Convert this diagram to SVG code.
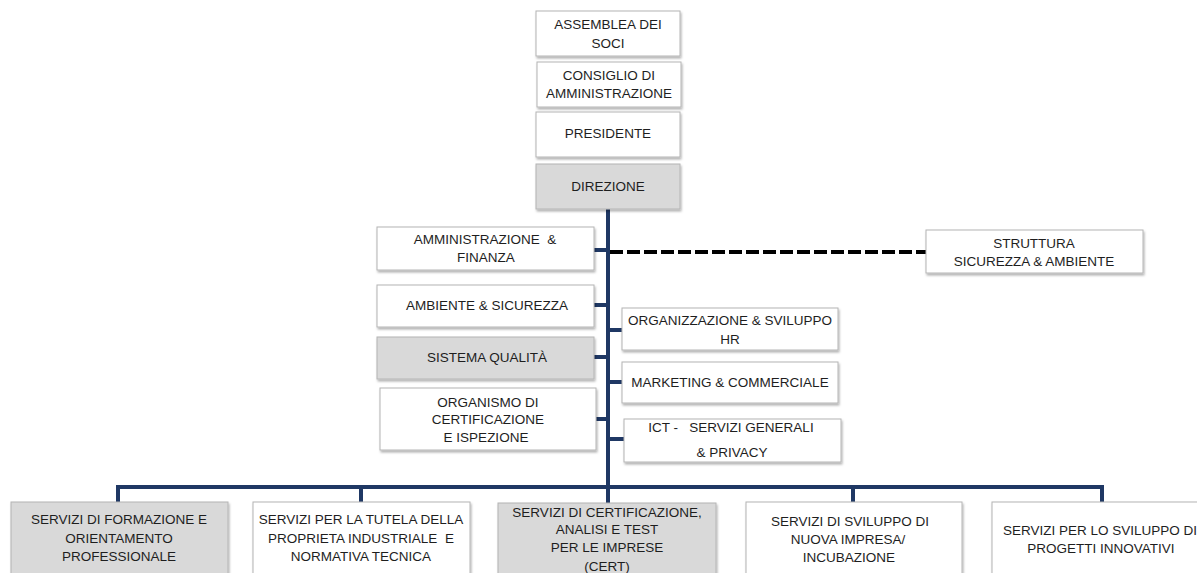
<svg xmlns="http://www.w3.org/2000/svg" width="1197" height="573" viewBox="0 0 1197 573">
<style>
.box{fill:#ffffff;stroke:#b4b4b4;stroke-width:1;filter:url(#sh)}
.gray{fill:#d9d9d9}
.t{font-family:"Liberation Sans",Arial,sans-serif;font-size:13.5px;fill:#1e1e1e;text-anchor:middle}
.ln{stroke:#1f3864;stroke-width:4;fill:none}
.dash{stroke:#000;stroke-width:4;stroke-dasharray:13,4;fill:none}
</style>
<defs>
<filter id="sh" x="-10%" y="-10%" width="130%" height="140%">
<feDropShadow dx="1" dy="2" stdDeviation="1.2" flood-color="#000" flood-opacity="0.3"/>
</filter>
</defs>
<g id="connectors">
<path class="ln" d="M608 209 V487"/>
<path class="ln" d="M594 250 H608 M594 305 H608 M594 357 H608 M596 419 H608"/>
<path class="ln" d="M608 330 H622 M608 382 H622 M608 439 H624"/>
<path class="ln" d="M118 502 V487 H1102 V502 M361 487 V502 M608 487 V503 M853 487 V502"/>
<path class="dash" d="M610 252 H926"/>
</g>
<g id="assemblea"><rect class="box" x="536" y="11" width="144" height="45"/><text class="t" x="608" y="29">ASSEMBLEA DEI</text><text class="t" x="608" y="48">SOCI</text></g>
<g id="consiglio"><rect class="box" x="537" y="62" width="144" height="45"/><text class="t" x="609" y="80">CONSIGLIO DI</text><text class="t" x="609" y="98">AMMINISTRAZIONE</text></g>
<g id="presidente"><rect class="box" x="536" y="112" width="144" height="45"/><text class="t" x="608" y="138">PRESIDENTE</text></g>
<g id="direzione"><rect class="box gray" x="536" y="164" width="144" height="45"/><text class="t" x="608" y="191">DIREZIONE</text></g>
<g id="amministrazione"><rect class="box" x="377" y="227" width="217" height="43"/><text class="t" x="485" y="244" xml:space="preserve">AMMINISTRAZIONE  &amp;</text><text class="t" x="486" y="262">FINANZA</text></g>
<g id="ambiente"><rect class="box" x="377" y="285" width="217" height="42"/><text class="t" x="487" y="310">AMBIENTE &amp; SICUREZZA</text></g>
<g id="qualita"><rect class="box gray" x="377" y="337" width="217" height="42"/><text class="t" x="487" y="362">SISTEMA QUALITÀ</text></g>
<g id="organismo"><rect class="box" x="380" y="388" width="216" height="62"/><text class="t" x="488" y="407">ORGANISMO DI</text><text class="t" x="488" y="424">CERTIFICAZIONE</text><text class="t" x="486" y="442">E ISPEZIONE</text></g>
<g id="organizzazione"><rect class="box" x="622" y="308" width="216" height="42"/><text class="t" x="730" y="325">ORGANIZZAZIONE &amp; SVILUPPO</text><text class="t" x="730" y="344">HR</text></g>
<g id="marketing"><rect class="box" x="622" y="362" width="216" height="41"/><text class="t" x="730" y="387">MARKETING &amp; COMMERCIALE</text></g>
<g id="ict"><rect class="box" x="624" y="419" width="217" height="43"/><text class="t" x="731" y="432" xml:space="preserve">ICT -   SERVIZI GENERALI</text><text class="t" x="732" y="457">&amp; PRIVACY</text></g>
<g id="struttura"><rect class="box" x="926" y="230" width="217" height="43"/><text class="t" x="1034" y="248">STRUTTURA</text><text class="t" x="1034" y="266">SICUREZZA &amp; AMBIENTE</text></g>
<g id="formazione"><rect class="box gray" x="11" y="502" width="217" height="80"/><text class="t" x="119" y="524">SERVIZI DI FORMAZIONE E</text><text class="t" x="119" y="543">ORIENTAMENTO</text><text class="t" x="119" y="561">PROFESSIONALE</text></g>
<g id="tutela"><rect class="box" x="253" y="502" width="217" height="80"/><text class="t" x="361" y="524">SERVIZI PER LA TUTELA DELLA</text><text class="t" x="361" y="543" xml:space="preserve">PROPRIETA INDUSTRIALE  E</text><text class="t" x="361" y="561">NORMATIVA TECNICA</text></g>
<g id="certificazione"><rect class="box gray" x="498" y="503" width="218" height="80"/><text class="t" x="607" y="517">SERVIZI DI CERTIFICAZIONE,</text><text class="t" x="607" y="534">ANALISI E TEST</text><text class="t" x="607" y="552">PER LE IMPRESE</text><text class="t" x="607" y="571">(CERT)</text></g>
<g id="nuova-impresa"><rect class="box" x="746" y="502" width="216" height="80"/><text class="t" x="850" y="526">SERVIZI DI SVILUPPO DI</text><text class="t" x="848" y="544">NUOVA IMPRESA/</text><text class="t" x="849" y="562">INCUBAZIONE</text></g>
<g id="progetti"><rect class="box" x="992" y="502" width="217" height="80"/><text class="t" x="1100" y="535">SERVIZI PER LO SVILUPPO DI</text><text class="t" x="1101" y="553">PROGETTI INNOVATIVI</text></g>
</svg>
